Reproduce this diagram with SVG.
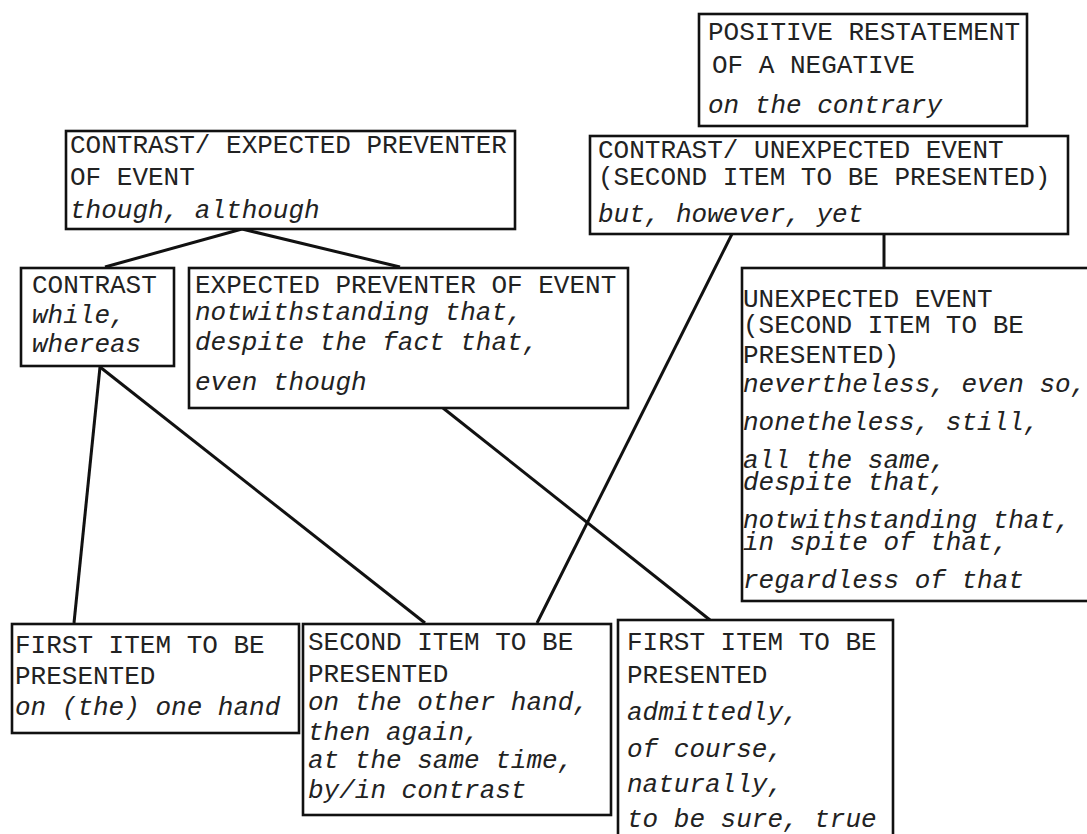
<svg xmlns="http://www.w3.org/2000/svg" width="1087" height="834" viewBox="0 0 1087 834">
<style>
.box{fill:#fff;stroke:#111;stroke-width:2.6}
.t{font-family:"Liberation Mono","Courier New",monospace;font-size:26px;fill:#222}
.i{font-style:italic}
.c{stroke:#111;stroke-width:3;fill:none}
</style>
<rect width="1087" height="834" fill="#fff"/>
<g id="connectors">
<line class="c" x1="242" y1="229" x2="105" y2="267"/>
<line class="c" x1="242" y1="229" x2="400" y2="267"/>
<line class="c" x1="884" y1="234" x2="884" y2="268"/>
<line class="c" x1="732" y1="234" x2="537" y2="623"/>
<line class="c" x1="100" y1="367" x2="74" y2="623"/>
<line class="c" x1="100" y1="367" x2="425" y2="623"/>
<line class="c" x1="443" y1="408" x2="710" y2="620"/>
</g>
<g id="positive">
<rect class="box" x="699" y="14" width="328" height="112"/>
<text class="t" x="708" y="40">POSITIVE RESTATEMENT</text>
<text class="t" x="712" y="73">OF A NEGATIVE</text>
<text class="t i" x="708" y="113">on the contrary</text>
</g>
<g id="contrast-unexpected">
<rect class="box" x="590" y="136" width="478" height="98"/>
<text class="t" x="598" y="158">CONTRAST/ UNEXPECTED EVENT</text>
<text class="t" x="598" y="185">(SECOND ITEM TO BE PRESENTED)</text>
<text class="t i" x="598" y="222">but, however, yet</text>
</g>
<g id="contrast-expected">
<rect class="box" x="66" y="131" width="449" height="98"/>
<text class="t" x="70" y="153">CONTRAST/ EXPECTED PREVENTER</text>
<text class="t" x="70" y="185">OF EVENT</text>
<text class="t i" x="70" y="218">though, although</text>
</g>
<g id="contrast">
<rect class="box" x="21" y="268" width="153" height="98"/>
<text class="t" x="32" y="293">CONTRAST</text>
<text class="t i" x="32" y="323">while,</text>
<text class="t i" x="32" y="352">whereas</text>
</g>
<g id="expected-preventer">
<rect class="box" x="189" y="268" width="439" height="140"/>
<text class="t" x="195" y="293">EXPECTED PREVENTER OF EVENT</text>
<text class="t i" x="195" y="320">notwithstanding that,</text>
<text class="t i" x="195" y="350">despite the fact that,</text>
<text class="t i" x="195" y="390">even though</text>
</g>
<g id="unexpected-event">
<rect class="box" x="742" y="268" width="360" height="333"/>
<text class="t" x="743" y="307">UNEXPECTED EVENT</text>
<text class="t" x="743" y="333">(SECOND ITEM TO BE</text>
<text class="t" x="743" y="363">PRESENTED)</text>
<text class="t i" x="743" y="392">nevertheless, even so,</text>
<text class="t i" x="743" y="430">nonetheless, still,</text>
<text class="t i" x="743" y="468">all the same,</text>
<text class="t i" x="743" y="490">despite that,</text>
<text class="t i" x="743" y="528">notwithstanding that,</text>
<text class="t i" x="743" y="550">in spite of that,</text>
<text class="t i" x="743" y="588">regardless of that</text>
</g>
<g id="first-item-1">
<rect class="box" x="12" y="624" width="287" height="109"/>
<text class="t" x="15" y="653">FIRST ITEM TO BE</text>
<text class="t" x="15" y="684">PRESENTED</text>
<text class="t i" x="15" y="715">on (the) one hand</text>
</g>
<g id="second-item">
<rect class="box" x="303" y="624" width="308" height="191"/>
<text class="t" x="308" y="650">SECOND ITEM TO BE</text>
<text class="t" x="308" y="682">PRESENTED</text>
<text class="t i" x="308" y="710">on the other hand,</text>
<text class="t i" x="308" y="740">then again,</text>
<text class="t i" x="308" y="768">at the same time,</text>
<text class="t i" x="308" y="798">by/in contrast</text>
</g>
<g id="first-item-2">
<rect class="box" x="618" y="620" width="275" height="230"/>
<text class="t" x="627" y="650">FIRST ITEM TO BE</text>
<text class="t" x="627" y="683">PRESENTED</text>
<text class="t i" x="627" y="720">admittedly,</text>
<text class="t i" x="627" y="757">of course,</text>
<text class="t i" x="627" y="792">naturally,</text>
<text class="t i" x="627" y="827">to be sure, true</text>
</g>
</svg>
